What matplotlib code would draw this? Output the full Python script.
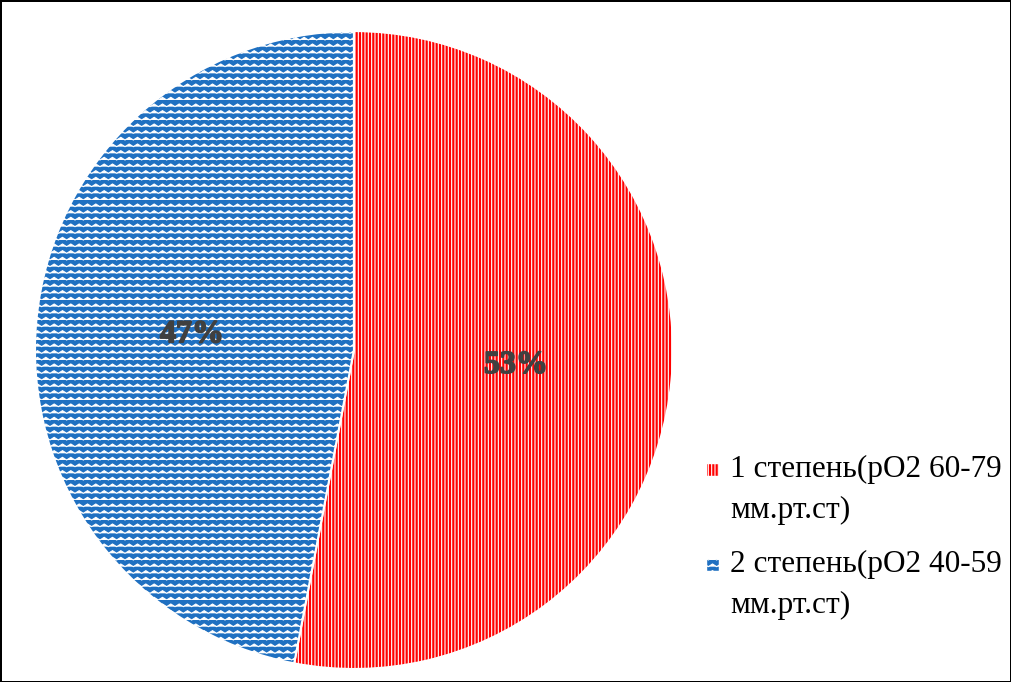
import numpy as np
import matplotlib
matplotlib.use("Agg")
import matplotlib.pyplot as plt
import matplotlib.hatch as mhatch
import matplotlib.patheffects as pe
from matplotlib.patches import Rectangle

# Data
labels = ["1 степень(pO2 60-79\nмм.рт.ст)", "2 степень(pO2 40-59\nмм.рт.ст)"]
shares = [53, 47]
colors = ["#FF0000", "#1F70C1"]
hatches = ["|||||", "zzzzzzzzzzzzzzz"]


# wavy / zigzag hatch, not available in matplotlib by default
class ZigZagHatch(mhatch.HatchPatternBase):
    teeth = 12

    def __init__(self, hatch, density):
        self.num_rows = hatch.count('z')
        self.num_vertices = self.num_rows * (2 * self.teeth + 1)

    def set_vertices_and_codes(self, vertices, codes):
        n = self.num_rows
        if n == 0:
            return
        step = 1.0 / n
        amp = step * 0.4
        xs = np.linspace(0, 1, 2 * self.teeth + 1)
        ys_off = np.where(np.arange(len(xs)) % 2 == 0, 0.0, amp)
        k = 0
        for i in range(n):
            y0 = i * step
            m = len(xs)
            vertices[k:k + m, 0] = xs
            vertices[k:k + m, 1] = y0 + ys_off
            codes[k] = 1  # MOVETO
            codes[k + 1:k + m] = 2  # LINETO
            k += m


mhatch._hatch_types.append(ZigZagHatch)

plt.rcParams['font.family'] = ['Liberation Serif', 'DejaVu Serif']
plt.rcParams['hatch.linewidth'] = 0.8

W, H = 1011, 682
fig = plt.figure(figsize=(W / 100, H / 100), dpi=100, edgecolor='black', linewidth=2)
ax = fig.add_axes([0.0346, 0.019, 0.631, 0.9355])

wedges, texts, autotexts = ax.pie(
    shares, colors=colors, startangle=90, counterclock=False,
    autopct='%1.0f%%', pctdistance=0.51,
    wedgeprops=dict(edgecolor='white', linewidth=1.5))
for w, h in zip(wedges, hatches):
    w.set_hatch(h)
for t in autotexts:
    t.set_fontsize(23)
    t.set_fontweight('bold')
    t.set_color('#404040')
    t.set_zorder(5)
    t.set_path_effects([pe.withStroke(linewidth=1.2, foreground='#404040')])
ax.set_xlim(-1, 1)
ax.set_ylim(-1, 1)

# legend drawn by hand so the key sits beside the first text line
leg_x, leg_top, entry_step = 707, 470, 95
for i, (lab, w) in enumerate(zip(labels, wedges)):
    yc = leg_top + i * entry_step
    fig.patches.append(Rectangle(((leg_x) / W, 1 - (yc + 6) / H), 12 / W, 12 / H,
                                 transform=fig.transFigure, facecolor=w.get_facecolor(),
                                 edgecolor='white', linewidth=0.3, hatch=w.get_hatch()))
    fig.text((leg_x + 23) / W, 1 - (yc - 15) / H, lab, fontsize=22.5, va='top', ha='left',
             linespacing=1.55)

fig.savefig("out.png", dpi=100, edgecolor=fig.get_edgecolor())
